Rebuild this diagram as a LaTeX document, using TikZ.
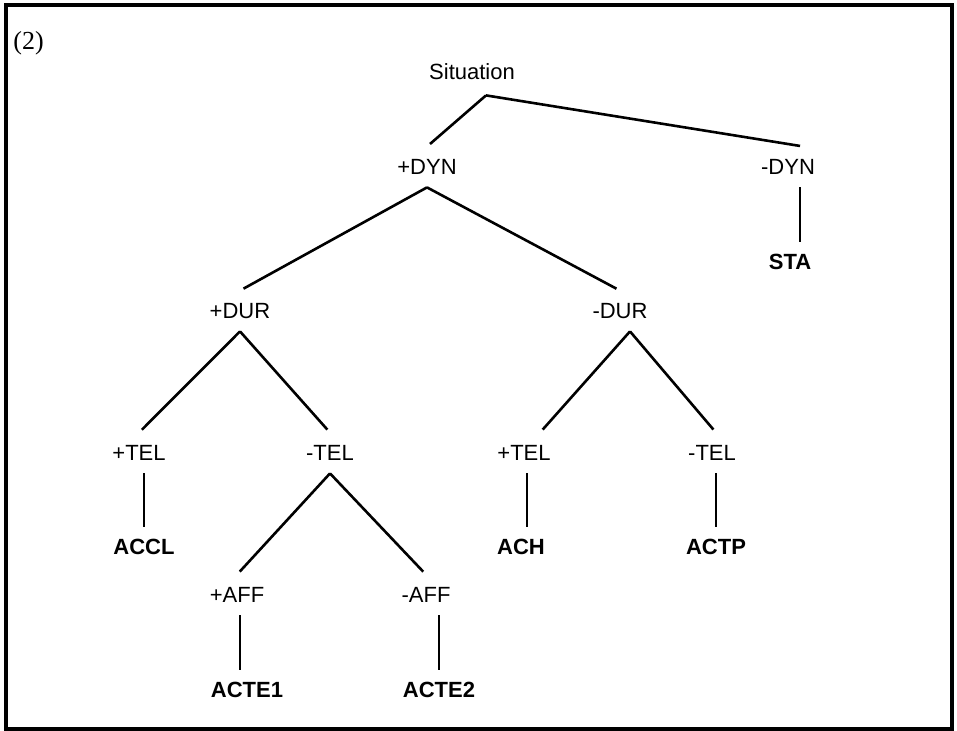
\documentclass[tikz,border=0pt]{standalone}
\usepackage{fontspec}
\setmainfont{Liberation Serif}
\setsansfont{Liberation Sans}
\usepackage{tikz}
\usetikzlibrary{calc,positioning}
\tikzset{
  feat/.style={font=\sffamily\fontsize{11}{13}\selectfont, inner sep=0pt, minimum height=20pt},
  leaf/.style={feat, font=\sffamily\bfseries\fontsize{11}{13}\selectfont},
  branch/.style={line width=1.3pt, shorten >=2pt},
  stem/.style={line width=1.3pt}
}

\begin{document}
\begin{tikzpicture}[x=0.5pt,y=-0.5pt]
  \useasboundingbox (0,0) rectangle (957,731);
  \draw[line width=1.7pt] (6,5) rectangle (952,729);
  \node[anchor=base west, inner sep=0pt, font=\fontsize{13}{15}\selectfont] (num) at (13,50) {(2)};

  \node[feat] (sit) at (472,72) {Situation};
  \coordinate (sitapex) at ([xshift=7pt,yshift=-1.5pt]sit.south);
  \node[feat] (dynp) at (427,167) {+DYN};
  \node[feat] (dynm) at (788,167) {-DYN};
  \node[leaf] (sta) at (790,262) {STA};
  \node[feat] (durp) at (240,311) {+DUR};
  \node[feat] (durm) at (620,311) {-DUR};
  \coordinate (durmapex) at ([xshift=5pt]durm.south);
  \node[feat] (telpa) at (139,453) {+TEL};
  \node[feat] (telma) at (330,453) {-TEL};
  \node[feat] (telpb) at (524,453) {+TEL};
  \node[feat] (telmb) at (712,453) {-TEL};
  \node[leaf] (accl) at (144,547) {ACCL};
  \node[leaf] (ach) at (521,547) {ACH};
  \node[leaf] (actp) at (716,547) {ACTP};
  \node[feat] (affp) at (237,595) {+AFF};
  \node[feat] (affm) at (426,595) {-AFF};
  \node[leaf] (actea) at (247,690) {ACTE1};
  \node[leaf] (acteb) at (439,690) {ACTE2};

  \draw[branch] (sitapex) -- (dynp.north);
  \draw[branch] (sitapex) -- ([xshift=8pt]dynm.north);
  \draw[branch] (dynp.south) -- (durp.north);
  \draw[branch] (dynp.south) -- (durm.north);
  \draw[branch] (durp.south) -- (telpa.north);
  \draw[branch] (durp.south) -- (telma.north);
  \draw[branch] (durmapex) -- ([xshift=8pt]telpb.north);
  \draw[branch] (durmapex) -- ([xshift=2pt]telmb.north);
  \draw[branch] (telma.south) -- (affp.north);
  \draw[branch] (telma.south) -- (affm.north);

  \draw[stem] ([xshift=5pt]dynm.south -| sta) -- ([xshift=5pt]sta.north);
  \draw[stem] (telpa.south -| accl) -- (accl.north);
  \draw[stem] ([xshift=3pt]telpb.south -| ach) -- ([xshift=3pt]ach.north);
  \draw[stem] (telmb.south -| actp) -- (actp.north);
  \draw[stem] ([xshift=-3.5pt]affp.south -| actea) -- ([xshift=-3.5pt]actea.north);
  \draw[stem] (affm.south -| acteb) -- (acteb.north);
\end{tikzpicture}
\end{document}
